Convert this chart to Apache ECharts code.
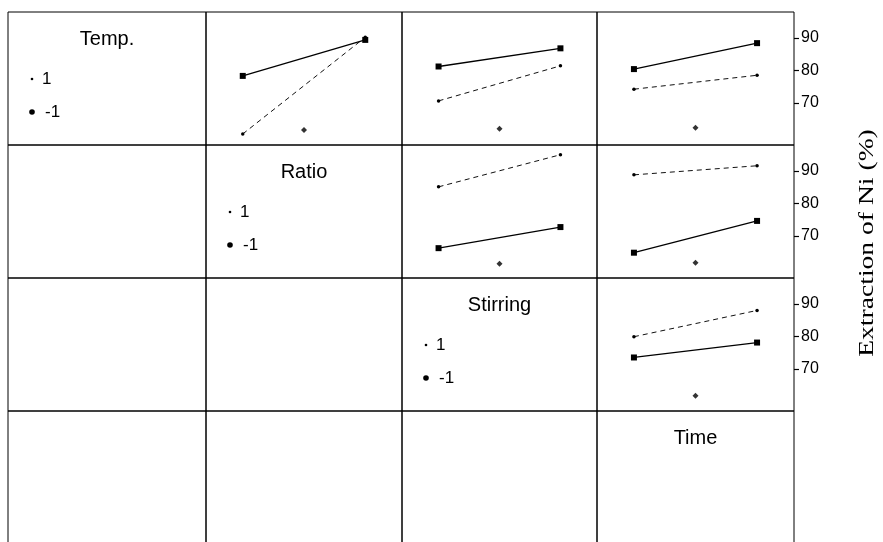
<!DOCTYPE html>
<html>
<head>
<meta charset="utf-8">
<script src="https://cdn.jsdelivr.net/npm/echarts@6/dist/echarts.min.js"></script>
<style>
html,body{margin:0;padding:0;background:#fff;}
#chart{width:883px;height:542px;}
</style>
</head>
<body>
<div id="chart"></div>
<script>
// ---- data ----
const factors = ['Temp.', 'Ratio', 'Stirring', 'Time'];
const levelLabels = ['1', '-1'];
const xLevels = [-1, 1];
const yTicks = [70, 80, 90];
const axisTitle = 'Extraction of Ni (%)';
// upper-triangle cells: [row factor (trace), column factor (x)]
const pairs = [[0, 1], [0, 2], [0, 3], [1, 2], [1, 3], [2, 3]];
// trace level +1 (dashed) at x = -1, +1
const highTrace = [[60.4, 90.2], [70.6, 81.4], [74.2, 78.5], [85.1, 95.0], [88.8, 91.6], [79.9, 88.0]];
// trace level -1 (solid) at x = -1, +1
const lowTrace = [[78.3, 89.4], [81.2, 86.8], [80.4, 88.4], [66.2, 72.7], [64.8, 74.6], [73.5, 78.1]];
// small centre marks
const centerMarks = [61.6, 62.0, 62.3, 61.4, 61.7, 61.7];

// ---- layout ----
const colLeft = [8, 206, 402, 597, 794];
const rowTop = [12, 145, 278, 411, 544];
const YMIN = 57, YMAX = 98;

const grids = [], xAxes = [], yAxes = [], series = [], graphics = [];
for (let r = 0; r < 4; r++) {
  for (let c = 0; c < 4; c++) {
    grids.push({
      left: colLeft[c], top: rowTop[r],
      width: colLeft[c + 1] - colLeft[c], height: rowTop[r + 1] - rowTop[r],
      show: true, borderColor: '#000', borderWidth: 1, backgroundColor: 'transparent',
      containLabel: false, outerBoundsMode: 'none'
    });
    const gi = r * 4 + c;
    xAxes.push({ gridIndex: gi, type: 'value', min: -1.6, max: 1.6, show: false });
    const showY = (c === 3 && r < 3);
    yAxes.push({
      gridIndex: gi, type: 'value', min: YMIN, max: YMAX, position: 'right',
      show: showY,
      axisLine: { show: false, onZero: false },
      splitLine: { show: false },
      axisTick: { show: showY, customValues: yTicks, length: 5, lineStyle: { color: '#000', width: 1.2 } },
      axisLabel: { show: showY, customValues: yTicks, margin: 7, color: '#000', fontSize: 16, fontFamily: 'Liberation Sans, Arial, sans-serif' }
    });
  }
}

pairs.forEach((p, k) => {
  const gi = p[0] * 4 + p[1];
  series.push({
    type: 'line', name: levelLabels[0], xAxisIndex: gi, yAxisIndex: gi,
    data: xLevels.map((x, i) => [x, highTrace[k][i]]),
    symbol: 'circle', symbolSize: 3.5, showSymbol: true, silent: true,
    lineStyle: { color: '#111', width: 1, type: [5, 4] },
    itemStyle: { color: '#000' }
  });
  series.push({
    type: 'line', name: levelLabels[1], xAxisIndex: gi, yAxisIndex: gi,
    data: xLevels.map((x, i) => [x, lowTrace[k][i]]),
    symbol: 'rect', symbolSize: 6, showSymbol: true, silent: true,
    lineStyle: { color: '#000', width: 1.3 },
    itemStyle: { color: '#000' }
  });
  series.push({
    type: 'scatter', xAxisIndex: gi, yAxisIndex: gi,
    data: [[0, centerMarks[k]]], symbol: 'diamond', symbolSize: 6, silent: true,
    itemStyle: { color: '#000' }
  });
});

const sansFont = 'Liberation Sans, Arial, sans-serif';
for (let d = 0; d < 4; d++) {
  const L = colLeft[d], T = rowTop[d], W = colLeft[d + 1] - colLeft[d];
  graphics.push({ type: 'text', x: L + W / 2, y: T + 27,
    style: { text: factors[d], font: '20px ' + sansFont, fill: '#000', textAlign: 'center', textVerticalAlign: 'middle' } });
  if (d < 3) {
    graphics.push({ type: 'circle', shape: { cx: L + 24, cy: T + 67, r: 1.3 }, style: { fill: '#000' } });
    graphics.push({ type: 'text', x: L + 34, y: T + 67,
      style: { text: levelLabels[0], font: '17px ' + sansFont, fill: '#000', textVerticalAlign: 'middle' } });
    graphics.push({ type: 'circle', shape: { cx: L + 24, cy: T + 100, r: 2.8 }, style: { fill: '#000' } });
    graphics.push({ type: 'text', x: L + 37, y: T + 100,
      style: { text: levelLabels[1], font: '17px ' + sansFont, fill: '#000', textVerticalAlign: 'middle' } });
  }
}
graphics.push({ type: 'text', x: 868, y: 243, rotation: Math.PI / 2, scaleX: 1.38,
  style: { text: axisTitle, font: '20px Liberation Serif, Times New Roman, serif', fill: '#000', textAlign: 'center', textVerticalAlign: 'middle' } });

const chart = echarts.init(document.getElementById('chart'), null, { renderer: 'canvas' });
chart.setOption({
  animation: false,
  backgroundColor: '#fff',
  grid: grids, xAxis: xAxes, yAxis: yAxes, series: series, graphic: graphics
});
</script>
</body>
</html>
